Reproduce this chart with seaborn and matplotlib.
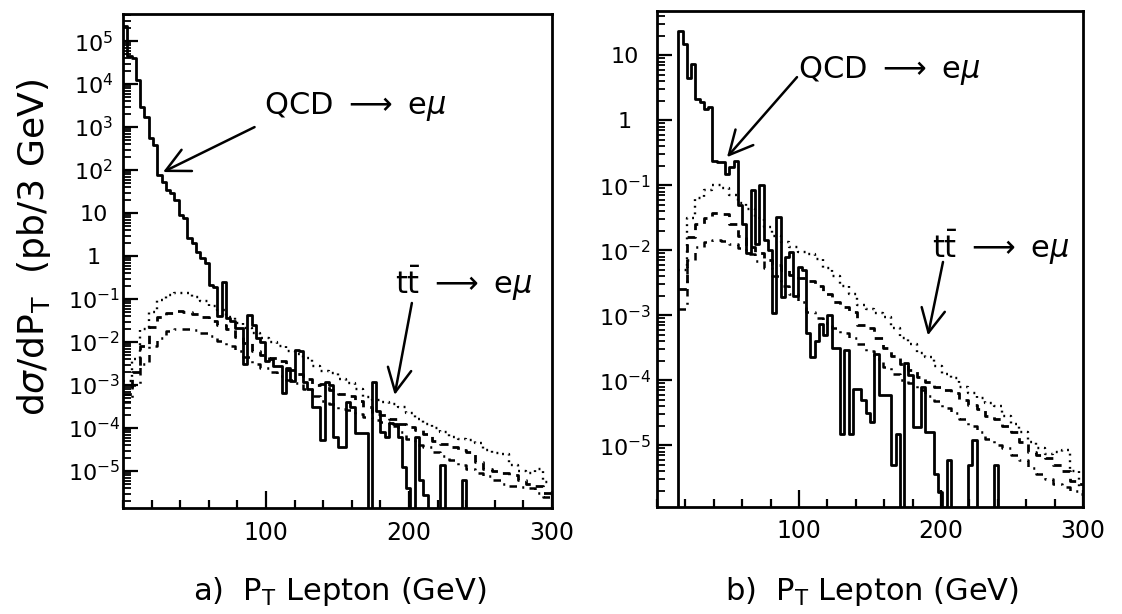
import numpy as np
import matplotlib
matplotlib.use("Agg")
import matplotlib.pyplot as plt
from matplotlib.ticker import FixedLocator, MultipleLocator, LogLocator, NullFormatter
import seaborn as sns

# ---------------- data (log10 of dsigma/dPt) ----------------
# QCD -> e mu histogram, 3 GeV bins from 0 to 300 GeV ; -9 marks an empty bin
qcd_a_log10 = [5.35, 4.65, 4.6, 4.09, 3.47, 3.23, 2.74, 2.58, 1.88, 1.73,
               1.53, 1.46, 1.3, 0.95, 0.88, 0.41, 0.3, 0.1, -0.05, -0.15,
               -0.68, -0.72, -1.40, -0.60, -1.45, -1.50, -1.68, -1.68, -2.5, -1.37,
               -1.6, -1.9, -2.0, -2.45, -2.4, -2.55, -2.55, -3.19, -2.6, -2.9,
               -2.19, -2.2, -2.92, -3.1, -3.5, -3.5, -4.28, -2.92, -3.0, -4.2,
               -4.43, -4.43, -3.4, -3.5, -4.12, -4.12, -4.12, -9, -2.92, -3.6,
               -4.1, -4.2, -3.89, -3.9, -4.2, -4.9, -5.4, -9, -4.2, -5.2,
               -5.56, -9, -9, -9, -4.85, -9, -9, -9, -9, -5.21,
               -9, -9, -9, -9, -9, -9, -9, -9, -9, -9,
               -9, -9, -9, -9, -9, -9, -9, -9, -9, -9]

qcd_b_log10 = [-9, -9, -9, -9, -9, 1.38, 1.18, 0.65, 0.87, 0.33,
               0.28, 0.18, 0.2, -0.62, -0.65, -0.65, -0.82, -0.72, -0.62, -1.3,
               -1.59, -2.05, -1.08, -1.9, -1.0, -1.85, -2.0, -2.97, -1.49, -2.72,
               -2.1, -2.03, -2.7, -2.26, -2.3, -3.28, -3.64, -3.4, -3.13, -3.3,
               -3.0, -3.51, -3.51, -4.82, -3.54, -4.82, -4.13, -4.13, -4.31, -4.5,
               -4.64, -3.59, -4.23, -4.23, -4.23, -5.31, -4.82, -9, -3.74, -3.92,
               -4.72, -4.72, -4.1, -4.8, -4.8, -5.44, -5.72, -9, -5.23, -9,
               -9, -9, -9, -5.31, -4.92, -9, -9, -9, -9, -5.31,
               -9, -9, -9, -9, -9, -9, -9, -9, -9, -9,
               -9, -9, -9, -9, -9, -9, -9, -9, -9, -9]

# t tbar -> e mu curves, panel a: 6 GeV bins from 0 to 300 GeV
tt_a_dotted_log10 = [-2.9, -2.4, -1.7, -1.3, -1.02, -0.9, -0.85, -0.87, -0.95, -1.05,
                     -1.15, -1.25, -1.42, -1.55, -1.68, -1.78, -1.9, -2.0, -2.1, -2.2,
                     -2.27, -2.38, -2.55, -2.68, -2.73, -2.85, -2.95, -3.1, -3.27, -3.35,
                     -3.4, -3.45, -3.52, -3.65, -3.8, -3.9, -4.0, -4.1, -4.2, -4.25,
                     -4.28, -4.35, -4.5, -4.58, -4.6, -4.85, -5.0, -5.05, -4.95, -5.25]
tt_a_dashed_log10 = [-3.2, -2.7, -2.1, -1.65, -1.42, -1.33, -1.28, -1.3, -1.35, -1.42,
                     -1.52, -1.6, -1.7, -1.88, -2.03, -2.2, -2.3, -2.38, -2.45, -2.65,
                     -2.75, -2.85, -3.0, -2.98, -3.12, -3.2, -3.25, -3.38, -3.5, -3.68,
                     -3.7, -3.8, -3.9, -3.97, -4.05, -4.15, -4.3, -4.38, -4.45, -4.5,
                     -4.55, -4.8, -4.95, -5.0, -5.05, -5.1, -5.2, -5.3, -5.35, -5.5]
tt_a_dashdot_log10 = [-3.4, -3.0, -2.5, -2.1, -1.9, -1.75, -1.7, -1.69, -1.72, -1.78,
                      -1.86, -1.98, -2.1, -2.2, -2.35, -2.5, -2.6, -2.7, -2.8, -2.88,
                      -2.96, -3.1, -3.25, -3.38, -3.45, -3.55, -3.58, -3.68, -3.75, -3.81,
                      -3.85, -3.95, -4.1, -4.25, -4.4, -4.45, -4.55, -4.65, -4.75, -4.85,
                      -4.95, -5.05, -5.12, -5.2, -5.3, -5.35, -5.38, -5.4, -5.5, -5.6]

# panel b: 6 GeV bins from 15 to 297 GeV, then 297-300
tt_b_dotted_log10 = [-2.3, -1.5, -1.2, -1.08, -1.0, -1.04, -1.15, -1.27, -1.37, -1.5,
                     -1.65, -1.78, -1.87, -1.95, -2.02, -2.06, -2.13, -2.28, -2.4, -2.55,
                     -2.68, -2.85, -2.9, -2.97, -3.03, -3.2, -3.35, -3.45, -3.58, -3.65,
                     -3.78, -3.9, -3.97, -4.1, -4.2, -4.28, -4.35, -4.4, -4.55, -4.68,
                     -4.8, -4.95, -5.05, -5.13, -5.1, -5.08, -5.4, -5.64]
tt_b_dashed_log10 = [-2.6, -1.8, -1.6, -1.5, -1.42, -1.45, -1.6, -1.78, -1.95, -2.05,
                     -2.15, -2.22, -2.3, -2.38, -2.42, -2.48, -2.55, -2.68, -2.8, -2.88,
                     -2.95, -3.15, -3.2, -3.35, -3.5, -3.62, -3.75, -3.85, -3.95, -4.02,
                     -4.1, -4.15, -4.2, -4.3, -4.38, -4.45, -4.55, -4.6, -4.7, -4.8,
                     -4.95, -5.1, -5.15, -5.2, -5.3, -5.4, -5.55, -5.6]
tt_b_dashdot_log10 = [-2.9, -2.15, -1.95, -1.87, -1.84, -1.86, -1.9, -1.97, -2.06, -2.16,
                      -2.28, -2.4, -2.55, -2.68, -2.8, -2.95, -3.05, -3.12, -3.2, -3.28,
                      -3.35, -3.45, -3.55, -3.68, -3.8, -3.9, -4.0, -4.05, -4.15, -4.24,
                      -4.32, -4.42, -4.5, -4.6, -4.7, -4.8, -4.9, -5.0, -5.05, -5.15,
                      -5.23, -5.35, -5.45, -5.52, -5.6, -5.65, -5.7, -5.75]

x_tick_values = [100, 200, 300]
x_tick_labels = ["100", "200", "300"]
y_ticks_a = [1e-5, 1e-4, 1e-3, 1e-2, 1e-1, 1, 10, 1e2, 1e3, 1e4, 1e5]
y_labels_a = [r"$10^{-5}$", r"$10^{-4}$", r"$10^{-3}$", r"$10^{-2}$", r"$10^{-1}$",
              "1", "10", r"$10^{2}$", r"$10^{3}$", r"$10^{4}$", r"$10^{5}$"]
y_ticks_b = [1e-5, 1e-4, 1e-3, 1e-2, 1e-1, 1, 10]
y_labels_b = [r"$10^{-5}$", r"$10^{-4}$", r"$10^{-3}$", r"$10^{-2}$", r"$10^{-1}$", "1", "10"]

# ---------------- style ----------------
sns.set_theme(style="ticks")
plt.rcParams["font.family"] = ["DejaVu Sans"]
plt.rcParams["mathtext.fontset"] = "dejavusans"
plt.rcParams["axes.linewidth"] = 2.0
plt.rcParams["axes.edgecolor"] = "black"
plt.rcParams["text.color"] = "black"
plt.rcParams["xtick.color"] = "black"
plt.rcParams["ytick.color"] = "black"

fig = plt.figure(figsize=(11.22, 6.14), dpi=100)
ax_a = fig.add_axes([123 / 1122, 106 / 614, 429 / 1122, 494 / 614])
ax_b = fig.add_axes([657 / 1122, 107 / 614, 426 / 1122, 496 / 614])

qcd_edges = np.arange(0, 301, 3)
tt_a_edges = np.arange(0, 301, 6)
tt_b_edges = np.append(np.arange(15, 298, 6), 300)

styles = {
    "solid": dict(linestyle="-", linewidth=2.0),
    "dotted": dict(linestyle=(0, (0.8, 2.0)), linewidth=1.7),
    "dashed": dict(linestyle=(0, (3.0, 2.5)), linewidth=2.0),
    "dashdot": dict(linestyle=(0, (3.0, 2.5, 0.8, 2.5)), linewidth=1.8),
}


def step(ax, edges, logvals, style):
    y = np.power(10.0, np.asarray(logvals, dtype=float))
    y = np.append(y, y[-1])
    sns.lineplot(x=edges, y=y, drawstyle="steps-post", estimator=None, sort=False,
                 color="black", ax=ax, legend=False, **styles[style])


step(ax_a, tt_a_edges, tt_a_dotted_log10, "dotted")
step(ax_a, tt_a_edges, tt_a_dashed_log10, "dashed")
step(ax_a, tt_a_edges, tt_a_dashdot_log10, "dashdot")
step(ax_a, qcd_edges, qcd_a_log10, "solid")

step(ax_b, tt_b_edges, tt_b_dotted_log10, "dotted")
step(ax_b, tt_b_edges, tt_b_dashed_log10, "dashed")
step(ax_b, tt_b_edges, tt_b_dashdot_log10, "dashdot")
step(ax_b, qcd_edges, qcd_b_log10, "solid")

for ax, yt, yl, ylim, lpad in [(ax_a, y_ticks_a, y_labels_a, (1.38e-6, 4.27e5), 21),
                               (ax_b, y_ticks_b, y_labels_b, (1.12e-6, 47.9), 23)]:
    ax.set_yscale("log")
    ax.set_xlim(0, 300)
    ax.set_ylim(*ylim)
    ax.set_xlabel("")
    ax.set_ylabel("")
    ax.xaxis.set_major_locator(FixedLocator(x_tick_values))
    ax.set_xticklabels(x_tick_labels)
    ax.xaxis.set_minor_locator(MultipleLocator(20))
    ax.yaxis.set_major_locator(FixedLocator(yt))
    ax.set_yticklabels(yl)
    ax.yaxis.set_minor_locator(LogLocator(base=10, subs=np.arange(2, 10), numticks=40))
    ax.yaxis.set_minor_formatter(NullFormatter())
    ax.tick_params(axis="x", which="major", direction="in", length=12, width=1.6,
                   labelsize=17, pad=9, top=False)
    ax.tick_params(axis="x", which="minor", direction="in", length=6, width=1.6, top=False)
    ax.tick_params(axis="y", which="major", direction="in", length=11, width=1.6,
                   labelsize=16, pad=lpad, right=False)
    ax.tick_params(axis="y", which="minor", direction="in", length=6, width=1.3, right=False)
    for lab in ax.get_yticklabels():
        lab.set_horizontalalignment("center")
    for s in ax.spines.values():
        s.set_linewidth(2.0)
        s.set_color("black")

arrow_kw = dict(arrowstyle="->,head_length=0.5,head_width=0.25", lw=1.8, color="black",
                shrinkA=0, shrinkB=0, mutation_scale=34)
txt_kw = dict(fontsize=22, ha="left", va="center", color="black")

qcd_text = r"QCD $\longrightarrow$ e$\mu$"
tt_text = r"$\mathrm{t\bar{t}}$ $\longrightarrow$ e$\mu$"

ax_a.text(98.6, 2950, qcd_text, **txt_kw)
ax_a.annotate("", xy=(28, 90), xytext=(92, 1000), arrowprops=arrow_kw)
ax_a.text(190, 0.23, tt_text, **txt_kw)
ax_a.annotate("", xy=(190, 5.9e-4), xytext=(202, 0.081), arrowprops=arrow_kw)

ax_b.text(99.3, 5.9, qcd_text, **txt_kw)
ax_b.annotate("", xy=(49.3, 0.27), xytext=(98.6, 4.6), arrowprops=arrow_kw)
ax_b.text(193.7, 0.011, tt_text, **txt_kw)
ax_b.annotate("", xy=(190.8, 4.9e-4), xytext=(201.4, 6.6e-3), arrowprops=arrow_kw)

fig.text(34 / 1122, 1 - 248 / 614, r"d$\sigma$/dP$_\mathrm{T}$  (pb/3 GeV)", rotation=90,
         fontsize=26, ha="center", va="center")
fig.text(340 / 1122, 1 - 592 / 614, r"a)  P$_\mathrm{T}$ Lepton (GeV)", fontsize=22,
         ha="center", va="center")
fig.text(872 / 1122, 1 - 592 / 614, r"b)  P$_\mathrm{T}$ Lepton (GeV)", fontsize=22,
         ha="center", va="center")

fig.savefig("out.png", dpi=100, facecolor="white")
